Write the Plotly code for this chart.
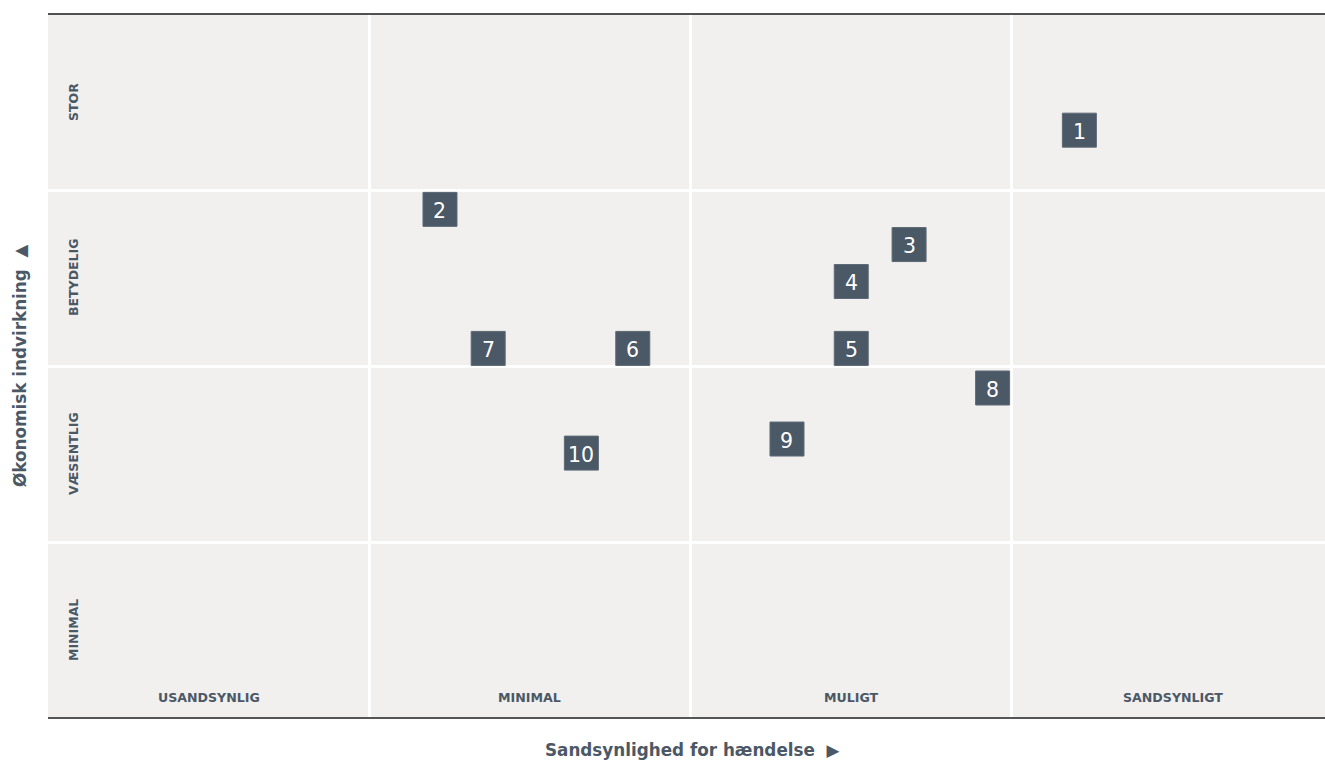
import plotly.graph_objects as go

# ---- data ----
risk_ids = ["1", "2", "3", "4", "5", "6", "7", "8", "9", "10"]
likelihood = [3.21, 1.22, 2.68, 2.50, 2.50, 1.82, 1.37, 2.94, 2.30, 1.66]
impact = [3.34, 2.89, 2.69, 2.48, 2.10, 2.10, 2.10, 1.875, 1.585, 1.505]

x_categories = ["USANDSYNLIG", "MINIMAL", "MULIGT", "SANDSYNLIGT"]
y_categories = ["MINIMAL", "VÆSENTLIG", "BETYDELIG", "STOR"]

x_title = "Sandsynlighed for hændelse  ▶"
y_title = "Økonomisk indvirkning  ▲"

TXT = "#4b5866"
BG = "#f1f0ee"
FONT = "DejaVu Sans"

W, H = 1325, 760
ML, MR, MT, MB = 48, 0, 14, 42
unit_px = 321.3
x_max = (W - ML - MR) / unit_px

fig = go.Figure()
fig.add_trace(go.Scatter(
    x=likelihood, y=impact, mode="markers",
    marker=dict(symbol="square", size=34, color="#4b5866",
                line=dict(color="#5d6976", width=1)),
    text=risk_ids, hoverinfo="text", showlegend=False, cliponaxis=False,
))

annotations = []
for rid, xv, yv in zip(risk_ids, likelihood, impact):
    annotations.append(dict(
        x=xv, y=yv, xref="x", yref="y", yshift=-1.5,
        text=rid, showarrow=False,
        font=dict(size=20.5, color="white", family="DejaVu Sans"),
        xanchor="center", yanchor="middle"))
for i, lab in enumerate(x_categories):
    annotations.append(dict(
        x=i + 0.5, y=0, xref="x", yref="y", yshift=21,
        text=f"<b>{lab}</b>", showarrow=False,
        font=dict(size=12.6, color=TXT, family=FONT),
        xanchor="center", yanchor="middle"))
for j, lab in enumerate(y_categories):
    annotations.append(dict(
        x=0, y=j + 0.5, xref="x", yref="y", xshift=25,
        text=f"<b>{lab}</b>", showarrow=False, textangle=-90,
        font=dict(size=12.5, color=TXT, family=FONT),
        xanchor="center", yanchor="middle"))
annotations.append(dict(
    x=(692 - ML) / (W - ML - MR), y=-0.046, xref="paper", yref="paper",
    text=f"<b>{x_title}</b>", showarrow=False,
    font=dict(size=16.8, color=TXT, family=FONT),
    xanchor="center", yanchor="middle"))
annotations.append(dict(
    x=-0.022, y=0.5, xref="paper", yref="paper",
    text=f"<b>{y_title}</b>", showarrow=False, textangle=-90,
    font=dict(size=16.8, color=TXT, family=FONT),
    xanchor="center", yanchor="middle"))

shapes = [
    dict(type="line", xref="paper", yref="paper", x0=0, x1=1, y0=1, y1=1,
         line=dict(color="#1a1a1a", width=1.4)),
    dict(type="line", xref="paper", yref="paper", x0=0, x1=1, y0=0, y1=0,
         line=dict(color="#555555", width=2)),
]

fig.update_layout(
    width=W, height=H,
    margin=dict(l=ML, r=MR, t=MT, b=MB),
    paper_bgcolor="white", plot_bgcolor=BG,
    xaxis=dict(range=[0, x_max], tickvals=[1, 2, 3], showticklabels=False,
               showgrid=True, gridcolor="white", gridwidth=3,
               zeroline=False, showline=False, ticks="", fixedrange=True),
    yaxis=dict(range=[0, 4], tickvals=[1, 2, 3], showticklabels=False,
               showgrid=True, gridcolor="white", gridwidth=3,
               zeroline=False, showline=False, ticks="", fixedrange=True),
    annotations=annotations, shapes=shapes,
)

fig.write_html("out.html")
